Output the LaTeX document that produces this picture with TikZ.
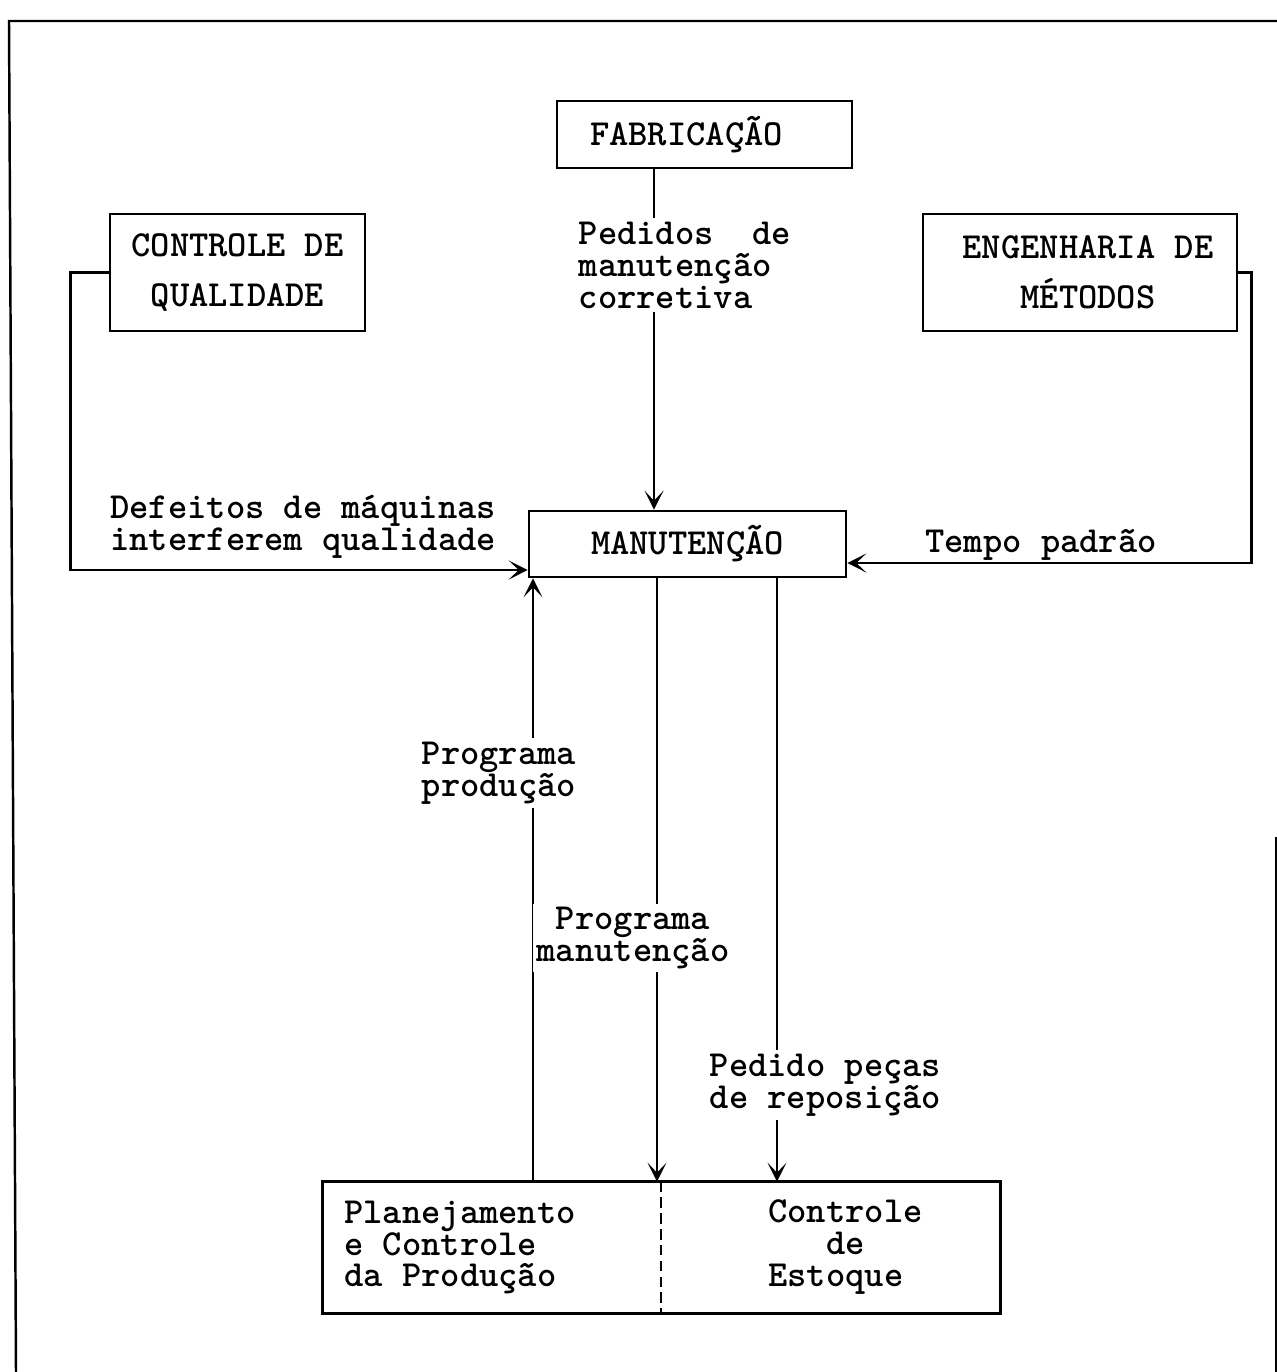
\documentclass[tikz,border=0pt]{standalone}
\usetikzlibrary{arrows.meta}
\begin{document}
\lineskiplimit=-20pt
\begin{tikzpicture}[x=0.02cm,y=-0.02cm,
  every node/.style={font=\ttfamily\bfseries\fontsize{20.9}{18.2}\selectfont},
  wide/.style={font=\ttfamily\bfseries\fontsize{20.9}{28.5}\selectfont},
  box/.style={draw, line width=1.5pt, inner sep=0pt},
  lbl/.style={fill=white, inner sep=2pt, align=left},
  note/.style={inner sep=0pt, align=left},
  link/.style={line width=1.4pt},
  arr/.style={link, -{Stealth[length=0.38cm,width=0.38cm,inset=0.2cm]}},
]
\useasboundingbox (0,0) rectangle (1277,1372);

% page frame
\draw[line width=1.4pt] (16,1372) -- (9,21) -- (1277,21);
\draw[line width=1pt] (1276,837) -- (1276,1372);

% departments
\node[box, minimum width=5.9cm, minimum height=1.34cm] (fab) at (704.5,134.5)
  {FABRICAÇÃO\hspace*{0.72cm}};
\node[box, wide, align=center, minimum width=5.1cm, minimum height=2.34cm] (qc) at (237.5,272.5)
  {CONTROLE DE\\QUALIDADE};
\node[box, wide, align=center, minimum width=6.28cm, minimum height=2.34cm] (eng) at (1080,272.5)
  {\hspace*{0.32cm}ENGENHARIA DE\\\hspace*{0.32cm}MÉTODOS};
\node[box, minimum width=6.34cm, minimum height=1.32cm] (man) at (687.5,544)
  {MANUTENÇÃO};

% split box at the bottom: two halves, one frame, dashed divider
\node[inner sep=0pt, minimum width=6.76cm, minimum height=2.62cm] (pcp) at (492,1247.5) {};
\node[inner sep=0pt, minimum width=6.78cm, minimum height=2.62cm] (est) at (830.5,1247.5) {};
\draw[line width=1.5pt] (pcp.north west) rectangle (est.south east);
\draw[line width=1pt, dash pattern=on 6pt off 3pt] (pcp.north east) -- (pcp.south east);
\node[note, anchor=west] (pcptext) at (344,1247.5) {Planejamento\\e Controle\\da Produção};
\node[note, anchor=west] (esttext) at (768,1247.5) {Controle\\\phantom{xxx}de\\Estoque};

% connector positions
\coordinate (xfab) at (654,0);
\coordinate (xprod) at (533,0);
\coordinate (xman) at (657,0);
\coordinate (xpec) at (777,0);
\coordinate (yqc) at (0,570);
\coordinate (yeng) at (0,563);

% flows
\draw[arr] (fab.south -| xfab) -- (man.north -| xfab);
\draw[arr] (qc.west) -- ++(-38,0) |- (man.west |- yqc);
\draw[arr] (eng.east) -- ++(13,0) |- (man.east |- yeng);
\draw[arr] (pcp.north -| xprod) -- (man.south -| xprod);
\draw[arr] (man.south -| xman) -- (pcp.north -| xman);
\draw[arr] (man.south -| xpec) -- (est.north -| xpec);

% flow labels
\node[lbl, anchor=west] (lfab) at (575,265) {Pedidos\ \ de\\manutenção\\corretiva};
\node[lbl, anchor=west] (lprod) at (418,773) {Programa\\produção};
\node[lbl, align=center] (lman) at (633,938) {Programa\\manutenção};
\node[lbl, anchor=west] (lpec) at (706,1085) {Pedido peças\\de reposição};
\node[note, anchor=west] (ldef) at (110,527) {Defeitos de máquinas\\interferem qualidade};
\node[note, anchor=west] (ltem) at (925,545) {Tempo padrão};
\end{tikzpicture}
\end{document}
